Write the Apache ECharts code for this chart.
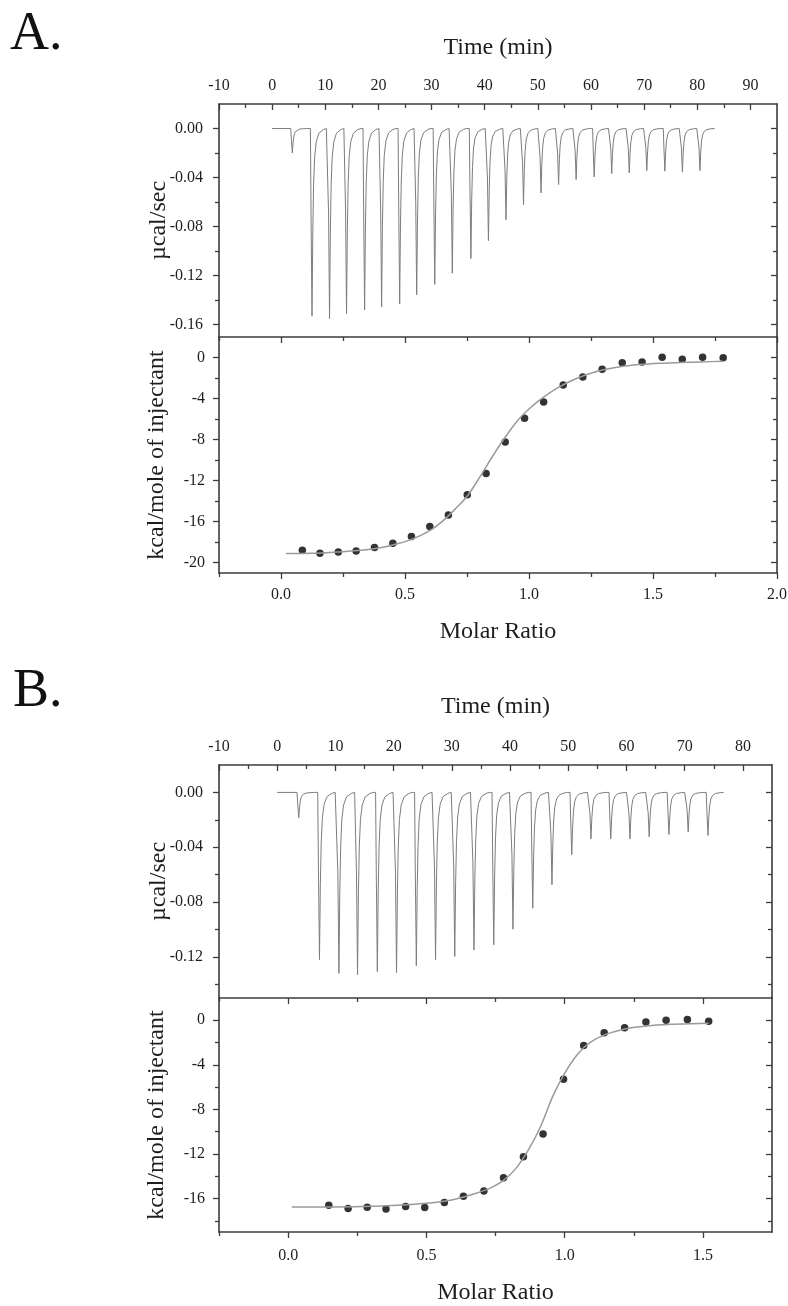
<!DOCTYPE html>
<html>
<head>
<meta charset="utf-8">
<script src="https://cdn.jsdelivr.net/npm/echarts@6/dist/echarts.min.js"></script>
<style>
html,body{margin:0;padding:0;background:#fff;}
#chart{width:788px;height:1306px;}
</style>
</head>
<body>
<div id="chart"></div>
<script>
// ---------------- DATA ----------------
// Panel A – raw thermogram: injection times (min) and peak depths (µcal/sec)
const injTimeA = [3.5, 7.2, 10.5, 13.7, 17.1, 20.3, 23.7, 26.9, 30.3, 33.6, 37.1, 40.4, 43.7, 47.0, 50.3, 53.6, 56.9, 60.3, 63.6, 66.9, 70.2, 73.6, 76.9, 80.2];
const peakDepthA = [-0.020, -0.153, -0.155, -0.151, -0.148, -0.1455, -0.143, -0.1355, -0.127, -0.118, -0.106, -0.0914, -0.0743, -0.062, -0.0525, -0.0457, -0.0416, -0.0395, -0.0367, -0.0362, -0.0343, -0.0348, -0.0356, -0.0343];
const baselineA = [0, 82.9];
// Panel A – integrated heats
const molarA = [0.086, 0.157, 0.231, 0.303, 0.377, 0.451, 0.526, 0.600, 0.675, 0.751, 0.827, 0.904, 0.982, 1.059, 1.138, 1.217, 1.295, 1.376, 1.456, 1.537, 1.618, 1.700, 1.783];
const heatA = [-18.79, -19.08, -18.95, -18.85, -18.52, -18.10, -17.44, -16.46, -15.34, -13.38, -11.31, -8.23, -5.93, -4.33, -2.69, -1.90, -1.15, -0.52, -0.43, 0.03, -0.16, 0.03, -0.03];
const fitAx = [0.02, 0.127, 0.226, 0.325, 0.407, 0.473, 0.539, 0.605, 0.654, 0.703, 0.753, 0.802, 0.852, 0.901, 0.951, 1.0, 1.049, 1.115, 1.198, 1.28, 1.362, 1.445, 1.527, 1.61, 1.692, 1.783];
const fitAy = [-19.11, -19.08, -18.95, -18.79, -18.52, -18.13, -17.6, -16.79, -15.9, -14.75, -13.44, -11.64, -9.67, -7.87, -6.23, -5.02, -4.03, -2.95, -1.97, -1.31, -0.92, -0.69, -0.56, -0.49, -0.43, -0.36];

// Panel B – raw thermogram
const injTimeB = [3.4, 6.96, 10.3, 13.5, 16.9, 20.2, 23.6, 26.9, 30.2, 33.5, 36.9, 40.2, 43.6, 46.9, 50.3, 53.6, 57.0, 60.3, 63.6, 67.0, 70.3, 73.7];
const peakDepthB = [-0.0185, -0.122, -0.132, -0.133, -0.1307, -0.1314, -0.1265, -0.122, -0.1197, -0.115, -0.1112, -0.0998, -0.0845, -0.0673, -0.0454, -0.0339, -0.0339, -0.0339, -0.0324, -0.0307, -0.0288, -0.0314];
const baselineB = [0, 76.7];
// Panel B – integrated heats
const molarB = [0.147, 0.217, 0.286, 0.354, 0.425, 0.494, 0.565, 0.634, 0.708, 0.779, 0.851, 0.922, 0.996, 1.069, 1.143, 1.217, 1.294, 1.367, 1.444, 1.521];
const heatB = [-16.6, -16.9, -16.78, -16.93, -16.72, -16.81, -16.36, -15.79, -15.31, -14.14, -12.24, -10.2, -5.29, -2.26, -1.11, -0.66, -0.15, 0.0, 0.06, -0.09];
const fitBx = [0.013, 0.161, 0.308, 0.456, 0.529, 0.603, 0.677, 0.736, 0.780, 0.824, 0.869, 0.913, 0.957, 1.001, 1.046, 1.090, 1.149, 1.223, 1.296, 1.385, 1.459, 1.521];
const fitBy = [-16.75, -16.75, -16.69, -16.51, -16.36, -16.06, -15.55, -15.0, -14.35, -13.29, -11.64, -9.53, -6.83, -4.72, -3.07, -2.02, -1.26, -0.75, -0.51, -0.36, -0.30, -0.27];

// Tick values
const timeTicksA = [-10, 0, 10, 20, 30, 40, 50, 60, 70, 80, 90];
const timeMinorA = [-5, 5, 15, 25, 35, 45, 55, 65, 75, 85];
const timeTicksB = [-10, 0, 10, 20, 30, 40, 50, 60, 70, 80];
const timeMinorB = [-5, 5, 15, 25, 35, 45, 55, 65, 75];
const powerTicksA = [0, -0.04, -0.08, -0.12, -0.16];
const powerMinorA = [-0.02, -0.06, -0.10, -0.14];
const powerTicksB = [0, -0.04, -0.08, -0.12];
const powerMinorB = [-0.02, -0.06, -0.10, -0.14];
const ratioTicksA = [0, 0.5, 1.0, 1.5, 2.0];
const ratioMinorA = [-0.25, 0.25, 0.75, 1.25, 1.75];
const ratioTicksB = [0, 0.5, 1.0, 1.5];
const ratioMinorB = [-0.25, 0.25, 0.75, 1.25];
const heatTicksA = [0, -4, -8, -12, -16, -20];
const heatMinorA = [-2, -6, -10, -14, -18];
const heatTicksB = [0, -4, -8, -12, -16];
const heatMinorB = [-2, -6, -10, -14, -18];

// ---------------- BUILD ----------------
// generic injection-peak profile: [time offset (min), fraction of peak depth]
const PEAK_SHAPE = [[0, 0], [0.12, 0.45], [0.3, 1], [0.45, 0.55], [0.6, 0.3], [0.8, 0.15], [1.1, 0.07], [1.6, 0.025], [2.4, 0.006], [3.0, 0]];
function thermogram(base, times, depths) {
  const pts = [[base[0], 0]];
  times.forEach((t, i) => PEAK_SHAPE.forEach(([dt, f]) => pts.push([t + dt, depths[i] * f])));
  pts.push([base[1], 0]);
  return pts;
}
const zip = (a, b) => a.map((v, i) => [v, b[i]]);

const FONT = 'Liberation Serif';
const LINE = '#3c3c3c';
const TXT = '#1e1e1e';
const xAxes = [], yAxes = [];

function axisPair(kind, grid, min, max, major, minor, o) {
  const list = kind === 'x' ? xAxes : yAxes;
  list.push({
    type: 'value', gridIndex: grid, min: min, max: max, position: o.position,
    axisLine: { show: true, onZero: false, lineStyle: { color: LINE, width: 1.6 } },
    axisTick: { show: true, inside: !!o.inside, length: 6, customValues: major, lineStyle: { color: LINE, width: 1.3 } },
    axisLabel: o.fmt ? { show: true, customValues: major, formatter: o.fmt, margin: o.margin, fontFamily: FONT, fontSize: 16, color: TXT } : { show: false },
    splitLine: { show: false },
    name: o.name || '', nameLocation: 'middle', nameGap: o.nameGap || 0, nameMoveOverlap: false,
    nameTextStyle: { fontFamily: FONT, fontSize: 24, color: TXT }
  });
  const idx = list.length - 1;
  list.push({
    type: 'value', gridIndex: grid, min: min, max: max, position: o.position,
    axisLine: { show: false, onZero: false },
    axisTick: { show: true, inside: !!o.inside, length: 4, customValues: minor, lineStyle: { color: LINE, width: 1.3 } },
    axisLabel: { show: false }, splitLine: { show: false }
  });
  return idx;
}

const fmt2 = v => v.toFixed(2);
const fmt1 = v => v.toFixed(1);
const fmt0 = v => String(v);

const grids = [
  { left: 219, top: 104, width: 558, height: 233 },
  { left: 219, top: 337, width: 558, height: 236 },
  { left: 219, top: 765, width: 553, height: 233 },
  { left: 219, top: 998, width: 553, height: 234 }
].map(g => Object.assign({ outerBoundsMode: 'none', containLabel: false }, g));

// Panel A top
const ax0 = axisPair('x', 0, -10, 95, timeTicksA, timeMinorA, { position: 'top', inside: true, fmt: fmt0, margin: 10, name: 'Time (min)', nameGap: 44 });
const ay0 = axisPair('y', 0, -0.17, 0.02, powerTicksA, powerMinorA, { position: 'left', fmt: fmt2, margin: 16, name: 'µcal/sec', nameGap: 48 });
axisPair('y', 0, -0.17, 0.02, powerTicksA, powerMinorA, { position: 'right', inside: true });
// Panel A bottom
const ax1 = axisPair('x', 1, -0.25, 2.0, ratioTicksA, ratioMinorA, { position: 'bottom', fmt: fmt1, margin: 14, name: 'Molar Ratio', nameGap: 47 });
axisPair('x', 1, -0.25, 2.0, ratioTicksA, ratioMinorA, { position: 'top', inside: true });
const ay1 = axisPair('y', 1, -21, 2, heatTicksA, heatMinorA, { position: 'left', fmt: fmt0, margin: 14, name: 'kcal/mole of injectant', nameGap: 50 });
axisPair('y', 1, -21, 2, heatTicksA, heatMinorA, { position: 'right', inside: true });
// Panel B top
const ax2 = axisPair('x', 2, -10, 85, timeTicksB, timeMinorB, { position: 'top', inside: true, fmt: fmt0, margin: 10, name: 'Time (min)', nameGap: 46 });
const ay2 = axisPair('y', 2, -0.15, 0.02, powerTicksB, powerMinorB, { position: 'left', fmt: fmt2, margin: 16, name: 'µcal/sec', nameGap: 48 });
axisPair('y', 2, -0.15, 0.02, powerTicksB, powerMinorB, { position: 'right', inside: true });
// Panel B bottom
const ax3 = axisPair('x', 3, -0.25, 1.75, ratioTicksB, ratioMinorB, { position: 'bottom', fmt: fmt1, margin: 16, name: 'Molar Ratio', nameGap: 49 });
axisPair('x', 3, -0.25, 1.75, ratioTicksB, ratioMinorB, { position: 'top', inside: true });
const ay3 = axisPair('y', 3, -19, 2, heatTicksB, heatMinorB, { position: 'left', fmt: fmt0, margin: 14, name: 'kcal/mole of injectant', nameGap: 50 });
axisPair('y', 3, -19, 2, heatTicksB, heatMinorB, { position: 'right', inside: true });

const rawStyle = { color: '#7d7d7d', width: 1 };
const fitStyle = { color: '#9a9a9a', width: 1.5 };
const dot = { color: '#000' };

const series = [
  { type: 'line', xAxisIndex: ax0, yAxisIndex: ay0, data: thermogram(baselineA, injTimeA, peakDepthA), showSymbol: false, lineStyle: rawStyle },
  { type: 'line', xAxisIndex: ax1, yAxisIndex: ay1, data: zip(fitAx, fitAy), showSymbol: false, smooth: 0.3, lineStyle: fitStyle },
  { type: 'scatter', xAxisIndex: ax1, yAxisIndex: ay1, data: zip(molarA, heatA), symbolSize: 7.5, itemStyle: dot },
  { type: 'line', xAxisIndex: ax2, yAxisIndex: ay2, data: thermogram(baselineB, injTimeB, peakDepthB), showSymbol: false, lineStyle: rawStyle },
  { type: 'line', xAxisIndex: ax3, yAxisIndex: ay3, data: zip(fitBx, fitBy), showSymbol: false, smooth: 0.3, lineStyle: fitStyle },
  { type: 'scatter', xAxisIndex: ax3, yAxisIndex: ay3, data: zip(molarB, heatB), symbolSize: 7.5, itemStyle: dot }
];

const chart = echarts.init(document.getElementById('chart'), null, { renderer: 'canvas' });
chart.setOption({
  backgroundColor: '#ffffff',
  animation: false,
  grid: grids,
  xAxis: xAxes,
  yAxis: yAxes,
  series: series,
  graphic: [
    { type: 'text', left: 10, top: 8, style: { text: 'A.', font: '54px "Liberation Serif"', fill: '#111' } },
    { type: 'text', left: 13, top: 665, style: { text: 'B.', font: '54px "Liberation Serif"', fill: '#111' } }
  ]
});
</script>
</body>
</html>
